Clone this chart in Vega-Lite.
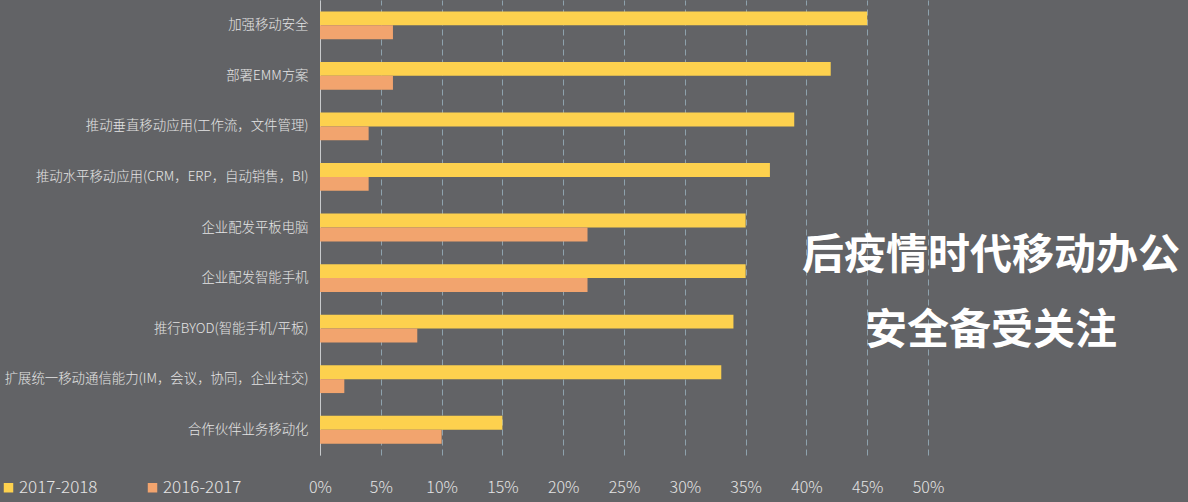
{
  "$schema": "https://vega.github.io/schema/vega-lite/v6.json",
  "autosize": {"type": "none"},
  "width": 608,
  "height": 455,
  "padding": {"left": 320, "top": 0, "right": 260, "bottom": 47},
  "background": "#626366",
  "title": {
    "text": ["后疫情时代移动办公", "安全备受关注"],
    "orient": "top",
    "anchor": "start",
    "frame": "group",
    "align": "center",
    "baseline": "top",
    "dx": 671,
    "dy": 357,
    "fontSize": 42,
    "fontWeight": "bold",
    "font": "Noto Sans CJK SC",
    "color": "#ffffff",
    "lineHeight": 75
  },
  "data": {
    "values": [
      {"category": "加强移动安全", "series": "2017-2018", "value": 45},
      {"category": "加强移动安全", "series": "2016-2017", "value": 6},
      {"category": "部署EMM方案", "series": "2017-2018", "value": 42},
      {"category": "部署EMM方案", "series": "2016-2017", "value": 6},
      {"category": "推动垂直移动应用(工作流，文件管理)", "series": "2017-2018", "value": 39},
      {"category": "推动垂直移动应用(工作流，文件管理)", "series": "2016-2017", "value": 4},
      {"category": "推动水平移动应用(CRM，ERP，自动销售，BI)", "series": "2017-2018", "value": 37},
      {"category": "推动水平移动应用(CRM，ERP，自动销售，BI)", "series": "2016-2017", "value": 4},
      {"category": "企业配发平板电脑", "series": "2017-2018", "value": 35},
      {"category": "企业配发平板电脑", "series": "2016-2017", "value": 22},
      {"category": "企业配发智能手机", "series": "2017-2018", "value": 35},
      {"category": "企业配发智能手机", "series": "2016-2017", "value": 22},
      {"category": "推行BYOD(智能手机/平板)", "series": "2017-2018", "value": 34},
      {"category": "推行BYOD(智能手机/平板)", "series": "2016-2017", "value": 8},
      {"category": "扩展统一移动通信能力(IM，会议，协同，企业社交)", "series": "2017-2018", "value": 33},
      {"category": "扩展统一移动通信能力(IM，会议，协同，企业社交)", "series": "2016-2017", "value": 2},
      {"category": "合作伙伴业务移动化", "series": "2017-2018", "value": 15},
      {"category": "合作伙伴业务移动化", "series": "2016-2017", "value": 10}
    ]
  },
  "mark": {"type": "bar"},
  "encoding": {
    "y": {
      "field": "category",
      "type": "nominal",
      "sort": null,
      "scale": {"paddingInner": 0.45, "paddingOuter": 0.225},
      "axis": {
        "title": null,
        "ticks": false,
        "domain": true,
        "domainColor": "#c8cacc",
        "domainWidth": 1,
        "labelColor": "#e4e4e4",
        "labelFont": "Noto Sans CJK SC",
        "labelFontWeight": 300,
        "labelFontSize": 13.4,
        "labelLimit": 400,
        "labelPadding": 12,
        "grid": false
      }
    },
    "yOffset": {
      "field": "series",
      "type": "nominal",
      "sort": ["2017-2018", "2016-2017"],
      "scale": {"paddingInner": 0, "paddingOuter": 0}
    },
    "x": {
      "field": "value",
      "type": "quantitative",
      "scale": {"domain": [0, 50], "nice": false},
      "axis": {
        "title": null,
        "values": [0, 5, 10, 15, 20, 25, 30, 35, 40, 45, 50],
        "labelExpr": "datum.value + '%'",
        "labelFlush": false,
        "domain": false,
        "ticks": false,
        "grid": true,
        "gridColor": "#8ea2ad",
        "gridDash": [6, 4],
        "gridWidth": 1,
        "labelColor": "#e4e4e4",
        "labelFont": "Noto Sans CJK SC",
        "labelFontWeight": 300,
        "labelFontSize": 16,
        "labelPadding": 24
      }
    },
    "color": {
      "field": "series",
      "type": "nominal",
      "scale": {"domain": ["2017-2018", "2016-2017"], "range": ["#FDD14E", "#F2A46E"]},
      "legend": {
        "title": null,
        "orient": "none",
        "direction": "horizontal",
        "legendX": -320,
        "legendY": 479,
        "symbolType": "square",
        "symbolSize": 90,
        "symbolStrokeWidth": 0,
        "labelColor": "#e4e4e4",
        "labelFont": "Noto Sans CJK SC",
        "labelFontWeight": 300,
        "labelFontSize": 17,
        "columnPadding": 46,
        "labelOffset": 2
      }
    }
  },
  "config": {"view": {"stroke": null}}
}
